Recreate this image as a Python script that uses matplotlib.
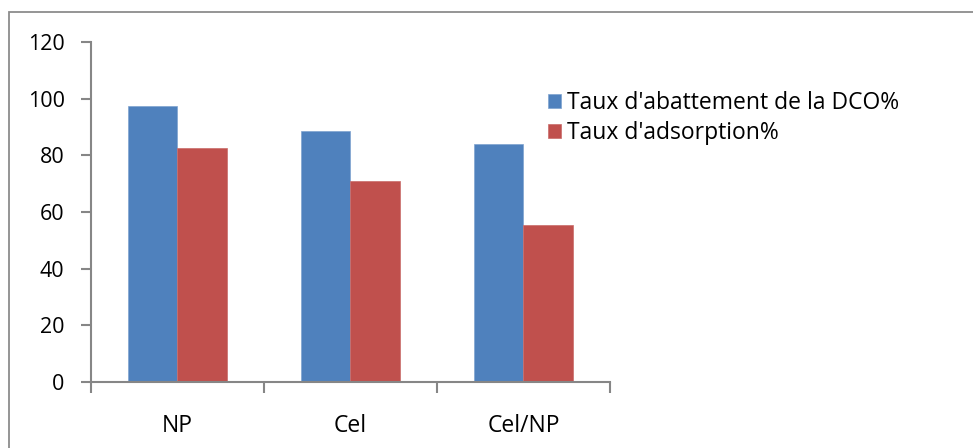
import matplotlib
matplotlib.use("Agg")
import matplotlib.pyplot as plt
import numpy as np
from matplotlib.patches import Rectangle

categories = ["NP", "Cel", "Cel/NP"]
abattement_dco = [97.3, 88.7, 84.1]
adsorption = [82.5, 70.8, 55.3]
series_labels = ["Taux d'abattement de la DCO%", "Taux d'adsorption%"]
y_ticks = [0, 20, 40, 60, 80, 100, 120]

blue = "#4F81BD"
red = "#C0504D"
axis_gray = "#868686"

plt.rcParams["font.family"] = ["Open Sans", "DejaVu Sans"]

W, H = 973, 448
fig = plt.figure(figsize=(W / 100, H / 100), dpi=100)

# outer chart-area frame
fig.patches.append(Rectangle((9 / W, -0.1), 1.2, (H - 12) / H + 0.1,
                             transform=fig.transFigure, fill=False,
                             edgecolor="#8c8c8c", linewidth=1.3))

ax = fig.add_axes([91 / W, 1 - 382 / H, (610 - 91) / W, (382 - 42) / H])

x = np.arange(len(categories))
bw = 1 / 3.5
ax.bar(x - bw / 2, abattement_dco, bw, color=blue, label=series_labels[0],
       edgecolor="#7fa3d0", linewidth=0.5)
ax.bar(x + bw / 2, adsorption, bw, color=red, label=series_labels[1],
       edgecolor="#c96c6a", linewidth=0.5)

ax.set_xlim(-0.5, len(categories) - 0.5)
ax.set_ylim(0, 120)
ax.set_yticks(y_ticks)
ax.set_yticklabels([str(v) for v in y_ticks], fontsize=15.5)

ax.set_xticks(np.arange(len(categories) + 1) - 0.5)
ax.set_xticklabels([])
ax.set_xticks(x, minor=True)
ax.set_xticklabels(categories, minor=True, fontsize=16.5)
ax.tick_params(axis="x", which="minor", length=0, pad=23)
ax.tick_params(axis="x", which="major", length=8, width=1.5, color=axis_gray)
ax.tick_params(axis="y", length=7, width=1.5, color=axis_gray, pad=12)

for side in ["top", "right"]:
    ax.spines[side].set_visible(False)
for side in ["left", "bottom"]:
    ax.spines[side].set_color(axis_gray)
    ax.spines[side].set_linewidth(1.5)

fig.legend(loc="upper left", bbox_to_anchor=(548 / W, 1 - 91 / H),
           frameon=False, fontsize=16.5, handlelength=0.55, handleheight=0.55,
           handletextpad=0.3, labelspacing=0.25, borderpad=0, borderaxespad=0)

fig.savefig("out.png", dpi=100)
